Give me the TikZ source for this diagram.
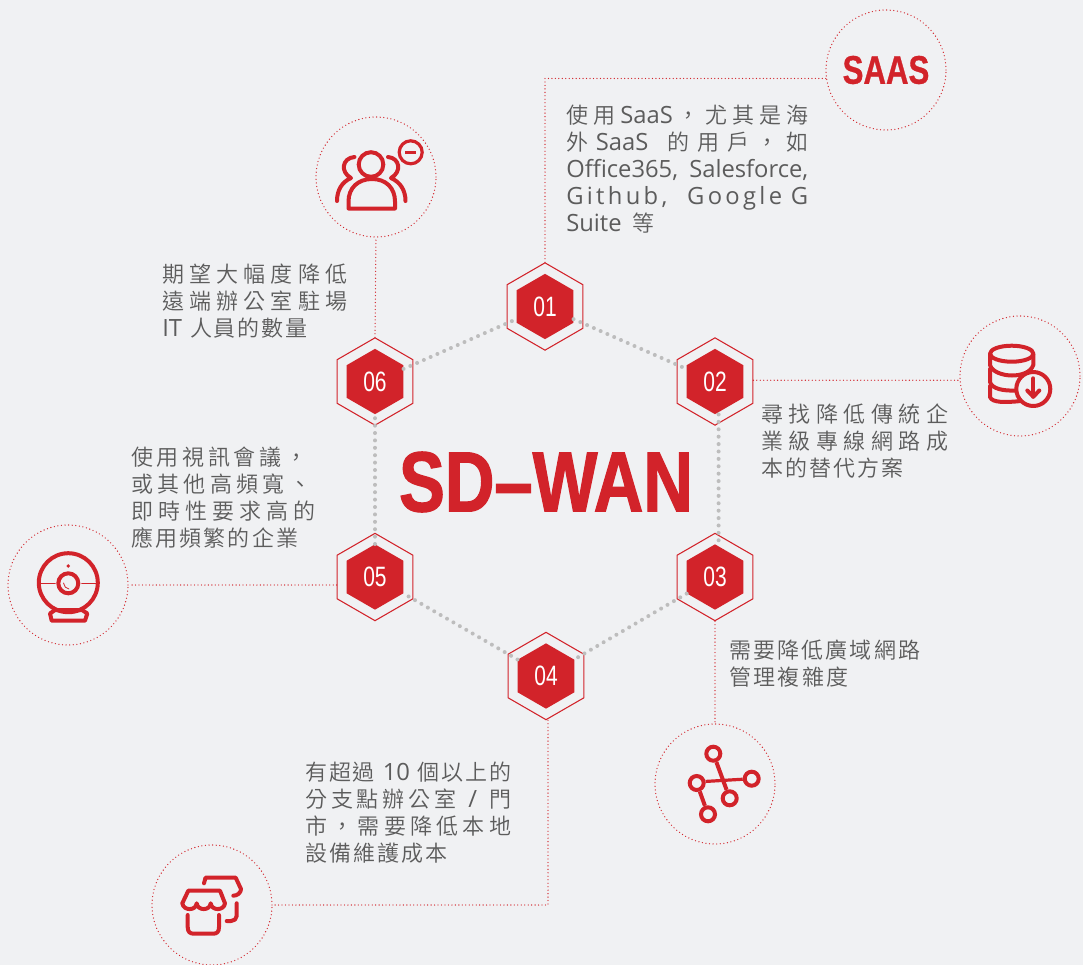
\documentclass[tikz,border=0pt]{standalone}
\usepackage{fontspec}
\usetikzlibrary{shapes.geometric}
\setmainfont{Noto Sans CJK TC DemiLight}
\newfontfamily\latfont[Scale=1.08]{Open Sans}
\newfontfamily\bigfont[FakeStretch=0.805, FakeBold=1.4]{Liberation Sans Bold}
\newfontfamily\saasfont[FakeStretch=0.78, FakeBold=0.8]{Liberation Sans Bold}
\newfontfamily\numfont[FakeStretch=0.75]{Liberation Sans}
\definecolor{bgc}{HTML}{F0F1F3}
\definecolor{redc}{HTML}{D2232A}
\definecolor{dotc}{HTML}{BDBDBD}
\definecolor{txtc}{HTML}{5C5C5C}
\newdimen\pxu \pxu=.75pt
\newcommand{\jl}[2]{\makebox[#1\pxu][s]{\frenchspacing\spaceskip=0pt plus 1fil\relax #2}}
\newcommand{\la}[1]{{\latfont #1}}
\newcommand{\notefont}{\fontsize{16.5}{20.25}\selectfont\lineskiplimit-100pt\relax}
\begin{document}
\begin{tikzpicture}[x=0.75pt, y=-0.75pt]

	\tikzstyle{outer}=[regular polygon, regular polygon sides=6, shape border rotate=30, draw=redc, line width=0.8pt, inner sep=0, minimum size=65.5pt]
	\tikzstyle{inner}=[regular polygon, regular polygon sides=6, shape border rotate=30, fill=redc, text=white, inner sep=0, minimum size=49pt, font=\numfont\fontsize{21}{21}\selectfont]
	\tikzstyle{ring}=[circle, draw=redc, line width=1pt, line cap=round, dash pattern=on 0pt off 2.7pt, inner sep=0, minimum size=90pt]
	\tikzstyle{leader}=[draw=redc, line width=1pt, line cap=round, dash pattern=on 0pt off 2.6pt]
	\tikzstyle{link}=[draw=dotc, line width=3pt, line cap=round, dash pattern=on 0pt off 5.55pt]
	\tikzstyle{note}=[anchor=north west, inner sep=0, align=left, text=txtc, font=\notefont]
	\tikzstyle{icon}=[draw=redc, line width=3pt, line cap=round, line join=round]
	\tikzstyle{thin}=[draw=redc, line width=1.2pt, line cap=round]
	\tikzstyle{knob}=[circle, draw=redc, line width=3pt, inner sep=0, minimum size=10.5pt]

	\fill[bgc] (0, 0) rectangle (1083, 965);
	\useasboundingbox (0, 0) rectangle (1083, 965);

	\coordinate (c_1) at (545, 306.5);
	\coordinate (c_2) at (715, 381.5);
	\coordinate (c_3) at (715, 577);
	\coordinate (c_4) at (546, 676);
	\coordinate (c_5) at (375, 577);
	\coordinate (c_6) at (375, 381.5);

	\node[outer] (o_1) at (c_1) {};
	\node[outer] (o_2) at (c_2) {};
	\node[outer] (o_3) at (c_3) {};
	\node[outer] (o_4) at (c_4) {};
	\node[outer] (o_5) at (c_5) {};
	\node[outer] (o_6) at (c_6) {};

	\node[inner] (h_1) at (c_1) {01};
	\node[inner] (h_2) at (c_2) {02};
	\node[inner] (h_3) at (c_3) {03};
	\node[inner] (h_4) at (c_4) {04};
	\node[inner] (h_5) at (c_5) {05};
	\node[inner] (h_6) at (c_6) {06};

	\draw[link] (h_1) -- (h_2);
	\draw[link] ([xshift=2.7pt]h_2.south) -- ([xshift=2.7pt]h_3.north);
	\draw[link] (h_3) -- (h_4);
	\draw[link] (h_4) -- (h_5);
	\draw[link] (h_5) -- (h_6);
	\draw[link] (h_6) -- (h_1);

	\node[text=redc, font=\bigfont\fontsize{64}{64}\selectfont] (title) at (546, 482) {SD–WAN};

	\node[ring, text=redc, font=\saasfont\fontsize{30}{30}\selectfont] (saas) at (886, 70) {SAAS};
	\node[ring] (users) at (376, 177) {};
	\node[ring] (data) at (1020, 376) {};
	\node[ring] (cam) at (68, 585) {};
	\node[ring] (net) at (715, 784) {};
	\node[ring] (shop) at (212, 905) {};

	\draw[leader] (o_1.north) |- (saas.188);
	\draw[leader] (o_2.east |- data.184) -- (data.184);
	\draw[leader] (o_3.south) -- (net.north);
	\draw[leader] ([xshift=1.5pt]o_4.south) |- (shop.east);
	\draw[leader] (o_5.west |- cam.east) -- (cam.east);
	\draw[leader] (o_6.north) -- (users.south);

	\node[note] (t_1) at (566, 105) {\jl{242}{使 用 \la{SaaS} ， 尤 其 是 海}\\ \jl{242}{外 \la{SaaS} \hspace{.2em} 的 用 戶 ， 如}\\ \jl{242}{\la{Office365,} \la{Salesforce,}}\\ \jl{242}{\la{G i t h u b ,} \hspace{.6em} \la{G o o g l e} \hspace{.1em} \la{G}}\\ \jl{88}{\la{Suite} 等}};
	\node[note] (t_2) at (761, 404) {\jl{187}{尋 找 降 低 傳 統 企}\\ \jl{187}{業 級 專 線 網 路 成}\\ \jl{142}{本 的 替 代 方 案}};
	\node[note] (t_3) at (729, 640) {\jl{191}{需 要 降 低 廣 域 網 路}\\ \jl{119}{管 理 複 雜 度}};
	\node[note] (t_4) at (305, 762) {\jl{206}{有 超 過 \hspace{.2em} \la{10} \hspace{.2em} 個 以 上 的}\\ \jl{206}{分 支 點 辦 公 室 \hspace{.2em} \la{/} \hspace{.2em} 門}\\ \jl{206}{市 ， 需 要 降 低 本 地}\\ \jl{142}{設 備 維 護 成 本}};
	\node[note] (t_5) at (131, 447) {\jl{176}{使 用 視 訊 會 議 ，}\\ \jl{180}{或 其 他 高 頻 寬 、}\\ \jl{184}{即 時 性 要 求 高 的}\\ \jl{167}{應 用 頻 繁 的 企 業}};
	\node[note] (t_6) at (162, 264) {\jl{185}{期 望 大 幅 度 降 低}\\ \jl{185}{遠 端 辦 公 室 駐 場}\\ \jl{145}{\la{IT} \hspace{.2em} 人 員 的 數 量}};

	% users
	\draw[icon] (371, 164.5) circle (12.3);
	\draw[icon] (348.5, 208.5) -- (348.5, 201.5) .. controls (348.5, 188) and (358, 179) .. (372, 179) .. controls (386, 179) and (395, 188) .. (395, 201.5) -- (395, 208.5) -- cycle;
	\draw[icon] (354.5, 157) .. controls (342, 158) and (340, 172) .. (351, 178) .. controls (342, 182) and (337, 190) .. (337, 201);
	\draw[icon] (388, 157) .. controls (400, 158) and (402, 172) .. (391, 178) .. controls (400, 182) and (405.5, 190) .. (405.5, 201);
	\draw[icon, line width=2.4pt] (410.7, 152.3) circle (11.5);
	\draw[icon, line width=2.4pt, line cap=butt] (405.3, 152.3) -- (416, 152.3);

	% database
	\draw[icon] (1011.7, 353.7) ellipse (21.7 and 8);
	\draw[icon] (990, 354) -- (990, 365) .. controls (992, 372) and (1003, 375.5) .. (1012, 375.5) .. controls (1022, 375.5) and (1031, 372) .. (1033.3, 365) -- (1033.3, 354);
	\draw[icon] (990, 369) -- (990, 382) .. controls (992, 389) and (1004, 391) .. (1015, 390.5);
	\draw[icon] (990, 386) -- (990, 397) .. controls (992, 403) and (1006, 402.5) .. (1021, 401);
	\fill[bgc] (1033.3, 389) circle (17);
	\draw[icon] (1033.3, 389) circle (17);
	\draw[icon] (1033.3, 378.3) -- (1033.3, 396.7);
	\draw[icon] (1027.3, 390.5) -- (1033.3, 396.7) -- (1039.3, 390.5);

	% webcam
	\draw[icon] (68.3, 582.7) circle (29.5);
	\draw[icon] (68.3, 583.3) circle (10);
	\draw[thin] (40, 583.3) -- (55, 583.3);
	\draw[thin] (82, 583.3) -- (97, 583.3);
	\draw[thin, line width=0.6pt] (63.5, 583) .. controls (64, 586) and (66, 589) .. (69, 589);
	\fill[redc] (68.3, 566) circle (1.9);
	\draw[icon] (50, 613.5) -- (55, 610) -- (82, 610) -- (87.3, 613.5) -- (85, 620.7) -- (51.7, 620.7) -- cycle;

	% network
	\node[knob] (n_1) at (713.3, 753.7) {};
	\node[knob] (n_2) at (696.7, 783) {};
	\node[knob] (n_3) at (751.7, 778.7) {};
	\node[knob] (n_4) at (729.7, 798.3) {};
	\node[knob] (n_5) at (708, 814.3) {};
	\draw[icon, line cap=butt] (n_1) -- (n_4);
	\draw[icon, line cap=butt, line width=2.4pt] (n_2.10) -- (n_3);
	\draw[icon, line cap=butt] (n_2) -- (n_5);

	% shop
	\draw[icon] (188.3, 890.7) -- (220, 890.7) -- (225, 903.3) .. controls (224, 911) and (211.5, 911) .. (210.7, 903.3) .. controls (210, 911) and (197.5, 911) .. (196.7, 903.3) .. controls (196, 911) and (183.5, 911) .. (182.3, 903.3) -- cycle;
	\draw[icon] (187.7, 915) -- (187.7, 927) .. controls (187.7, 932) and (190, 933.7) .. (194, 933.7) -- (213, 933.7) .. controls (217, 933.7) and (219, 932) .. (219, 927) -- (219, 915);
	\draw[icon] (204, 883.3) -- (205.5, 877.7) -- (235.7, 877.7) -- (241, 889) .. controls (241, 893) and (237, 895.7) .. (233.3, 895.7);
	\draw[icon] (236.7, 903.3) -- (236.7, 916) .. controls (236.7, 919) and (234, 921) .. (231, 921) -- (226.7, 921);

\end{tikzpicture}
\end{document}
